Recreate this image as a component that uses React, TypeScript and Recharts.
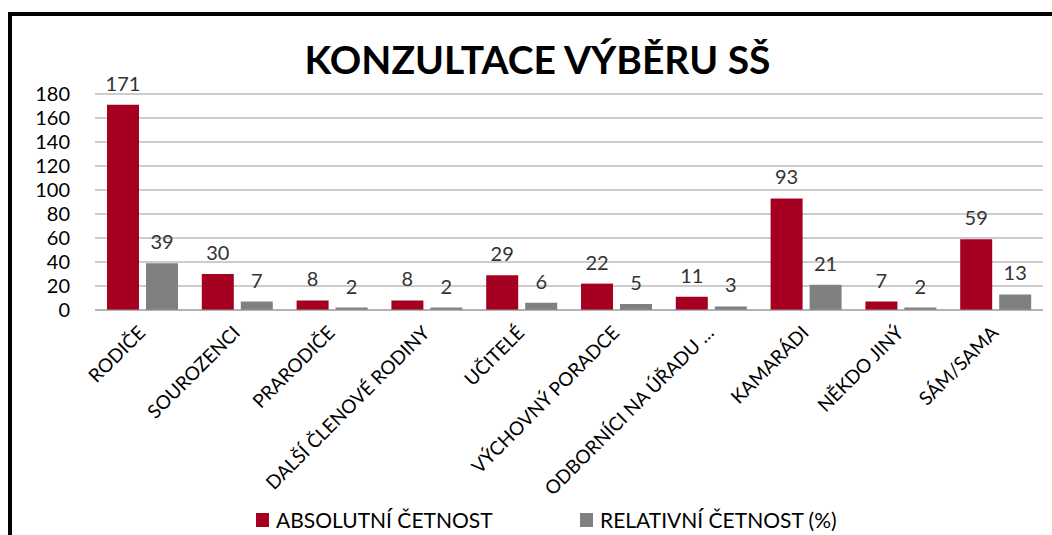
import React from "react";
import { BarChart, Bar, XAxis, YAxis, CartesianGrid, LabelList, Legend } from "recharts";

const categories = [
  "RODIČE",
  "SOUROZENCI",
  "PRARODIČE",
  "DALŠÍ ČLENOVÉ RODINY",
  "UČITELÉ",
  "VÝCHOVNÝ PORADCE",
  "ODBORNÍCI NA ÚŘADU …",
  "KAMARÁDI",
  "NĚKDO JINÝ",
  "SÁM/SAMA",
];
const absolutni = [171, 30, 8, 8, 29, 22, 11, 93, 7, 59];
const relativni = [39, 7, 2, 2, 6, 5, 3, 21, 2, 13];
const yTicks = [0, 20, 40, 60, 80, 100, 120, 140, 160, 180];

const data = categories.map((name, i) => ({ name, abs: absolutni[i], rel: relativni[i] }));

const FONT = "Lato, 'Open Sans', sans-serif";
const RED = "#A50021";
const GRAY = "#808080";

const XTick = (props: any) => {
  const { x, y, payload } = props;
  const tx = x + 4;
  const ty = y + 16;
  return (
    <text
      x={tx}
      y={ty}
      transform={`rotate(-45 ${tx} ${ty})`}
      textAnchor="end"
      fontSize={19}
      fontFamily={FONT}
      fill="#000"
    >
      {payload.value}
    </text>
  );
};

const LegendContent = () => (
  <div style={{ fontFamily: FONT, fontSize: 21, color: "#000" }}>
    <div style={{ position: "absolute", left: 256, top: 0, display: "flex", alignItems: "center" }}>
      <span style={{ width: 13, height: 14, background: RED, display: "inline-block", marginRight: 7 }} />
      <span>ABSOLUTNÍ ČETNOST</span>
    </div>
    <div style={{ position: "absolute", left: 580, top: 0, display: "flex", alignItems: "center" }}>
      <span style={{ width: 13, height: 14, background: GRAY, display: "inline-block", marginRight: 7 }} />
      <span>RELATIVNÍ ČETNOST (%)</span>
    </div>
  </div>
);

export default function App() {
  return (
    <div style={{ position: "absolute", left: 0, top: 0, width: 1052, height: 535, background: "#fff", overflow: "hidden" }}>
      <div style={{ position: "absolute", left: 8, top: 12, width: 1100, height: 600, borderLeft: "4px solid #000", borderTop: "4px solid #000" }} />
      <div
        style={{
          position: "absolute",
          left: 0,
          top: 36,
          width: 1075,
          textAlign: "center",
          fontFamily: FONT,
          fontWeight: 700,
          fontSize: 39,
          color: "#000",
        }}
      >
        KONZULTACE VÝBĚRU SŠ
      </div>
      <div style={{ position: "absolute", left: 0, top: 0 }}>
        <BarChart
          width={1052}
          height={535}
          data={data}
          margin={{ top: 94, right: 9, left: 0, bottom: 0 }}
          barSize={32}
          barGap={7}
        >
          <CartesianGrid vertical={false} stroke="#9a9a9a" strokeWidth={1.2} />
          <YAxis
            width={95}
            domain={[0, 180]}
            ticks={yTicks}
            interval={0}
            axisLine={false}
            tickLine={false}
            tickSize={0}
            tickMargin={25}
            tick={{ fontSize: 20, fontFamily: FONT, fill: "#000" }}
          />
          <XAxis
            dataKey="name"
            height={199}
            interval={0}
            axisLine={{ stroke: "#9a9a9a", strokeWidth: 1.2 }}
            tickLine={false}
            tick={<XTick />}
          />
          <Legend
            verticalAlign="bottom"
            content={<LegendContent />}
            wrapperStyle={{ position: "absolute", left: 0, top: 507, width: 1052, height: 26 }}
          />
          <Bar dataKey="abs" name="ABSOLUTNÍ ČETNOST" fill={RED} isAnimationActive={false}>
            <LabelList dataKey="abs" position="top" offset={14} fill="#333" fontSize={20} fontFamily={FONT} />
          </Bar>
          <Bar dataKey="rel" name="RELATIVNÍ ČETNOST (%)" fill={GRAY} isAnimationActive={false}>
            <LabelList dataKey="rel" position="top" offset={14} fill="#333" fontSize={20} fontFamily={FONT} />
          </Bar>
        </BarChart>
      </div>
    </div>
  );
}
